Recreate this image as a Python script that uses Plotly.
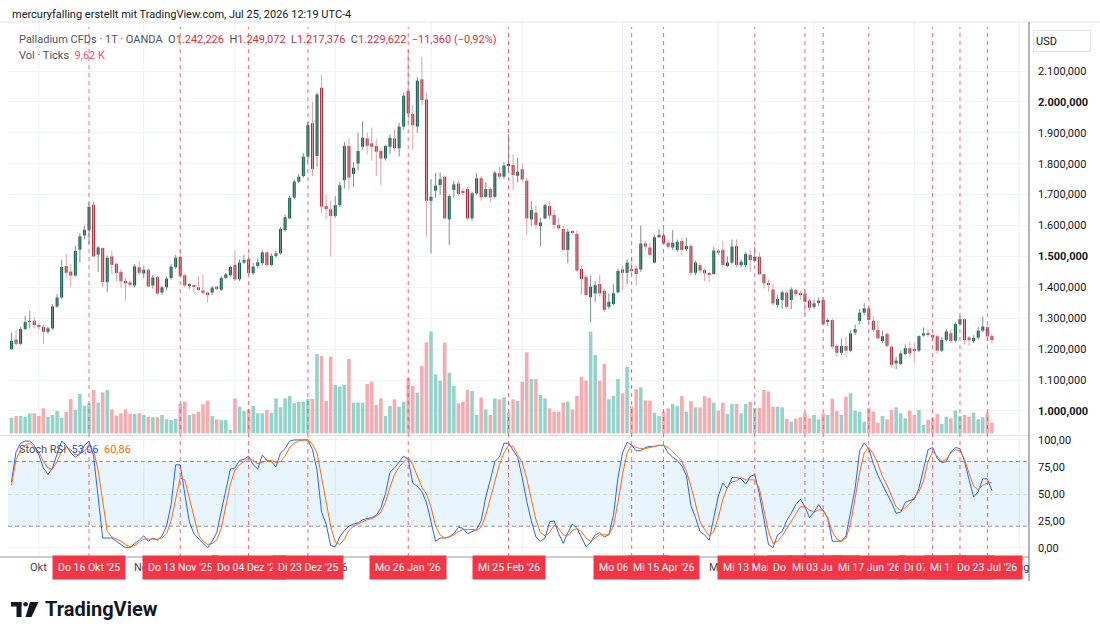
import plotly.graph_objects as go

# ---------------- data ----------------
open_ = [
    1200, 1231, 1217, 1265, 1288, 1292, 1278, 1272, 1256, 1267,
    1338, 1367, 1469, 1451, 1438, 1522, 1568, 1584, 1667, 1506,
    1527, 1417, 1500, 1476, 1450, 1421, 1416, 1406, 1465, 1445,
    1457, 1406, 1433, 1383, 1400, 1430, 1465, 1499, 1439, 1406,
    1405, 1400, 1390, 1383, 1383, 1402, 1392, 1430, 1439, 1473,
    1426, 1480, 1491, 1446, 1469, 1478, 1513, 1472, 1502, 1510,
    1585, 1623, 1690, 1742, 1760, 1823, 1931, 1825, 2046, 1663,
    1652, 1631, 1666, 1747, 1857, 1767, 1801, 1855, 1882, 1866,
    1857, 1841, 1817, 1855, 1882, 1850, 1920, 2035, 1961, 1920,
    2073, 2008, 1680, 1713, 1731, 1758, 1620, 1715, 1736, 1709,
    1718, 1623, 1704, 1753, 1693, 1718, 1693, 1769, 1758, 1794,
    1796, 1761, 1782, 1745, 1620, 1642, 1598, 1623, 1663, 1634,
    1602, 1589, 1521, 1580, 1573, 1459, 1434, 1368, 1380, 1411,
    1389, 1337, 1346, 1384, 1458, 1447, 1458, 1461, 1458, 1542,
    1529, 1480, 1562, 1568, 1544, 1529, 1521, 1550, 1523, 1534,
    1447, 1472, 1456, 1445, 1443, 1519, 1521, 1469, 1480, 1534,
    1472, 1472, 1505, 1486, 1499, 1442, 1413, 1393, 1343, 1359,
    1383, 1359, 1391, 1380, 1380, 1357, 1337, 1349, 1359, 1290,
    1294, 1210, 1188, 1210, 1195, 1253, 1291, 1318, 1332, 1291,
    1262, 1226, 1249, 1208, 1154, 1152, 1184, 1203, 1197, 1195,
    1244, 1251, 1246, 1242, 1195, 1230, 1251, 1227, 1281, 1297,
    1238, 1226, 1237, 1260, 1271, 1242.226,
]
high = [
    1254, 1261, 1272, 1308, 1325, 1304, 1285, 1278, 1272, 1345,
    1378, 1490, 1508, 1475, 1534, 1575, 1600, 1675, 1680, 1534,
    1530, 1503, 1517, 1480, 1460, 1430, 1425, 1476, 1484, 1470,
    1462, 1440, 1437, 1405, 1434, 1475, 1505, 1520, 1445, 1413,
    1410, 1435, 1440, 1385, 1405, 1405, 1436, 1447, 1470, 1520,
    1490, 1505, 1507, 1478, 1493, 1520, 1518, 1510, 1518, 1595,
    1635, 1697, 1748, 1767, 1835, 1935, 2000, 2030, 2087, 1700,
    1680, 1695, 1742, 1870, 1882, 1805, 1900, 1938, 1900, 1917,
    1880, 1850, 1862, 1895, 1910, 1932, 2030, 2170, 1990, 2080,
    2146, 2030, 1750, 1770, 1772, 1762, 1700, 1745, 1745, 1720,
    1725, 1710, 1770, 1760, 1740, 1724, 1776, 1790, 1805, 1895,
    1831, 1820, 1800, 1755, 1680, 1665, 1625, 1670, 1680, 1650,
    1625, 1600, 1590, 1585, 1585, 1470, 1440, 1437, 1420, 1440,
    1395, 1380, 1410, 1460, 1470, 1490, 1497, 1470, 1600, 1550,
    1545, 1570, 1590, 1590, 1555, 1585, 1555, 1560, 1560, 1540,
    1485, 1480, 1460, 1450, 1530, 1525, 1550, 1500, 1555, 1555,
    1490, 1515, 1521, 1532, 1513, 1445, 1425, 1410, 1375, 1390,
    1390, 1400, 1395, 1390, 1395, 1362, 1360, 1368, 1370, 1300,
    1300, 1215, 1235, 1240, 1260, 1280, 1330, 1348, 1340, 1305,
    1290, 1260, 1255, 1212, 1175, 1195, 1215, 1225, 1220, 1245,
    1270, 1265, 1250, 1248, 1240, 1265, 1262, 1287, 1308, 1300,
    1242, 1245, 1272, 1306, 1275, 1249.072,
]
low = [
    1197, 1213, 1213, 1262, 1267, 1267, 1262, 1216, 1250, 1262,
    1333, 1362, 1430, 1400, 1435, 1480, 1555, 1540, 1500, 1450,
    1400, 1385, 1445, 1420, 1400, 1357, 1400, 1400, 1440, 1430,
    1400, 1395, 1375, 1375, 1390, 1425, 1460, 1430, 1400, 1395,
    1380, 1388, 1378, 1350, 1375, 1390, 1388, 1428, 1435, 1420,
    1420, 1475, 1440, 1440, 1462, 1470, 1465, 1468, 1495, 1505,
    1580, 1620, 1684, 1738, 1755, 1805, 1760, 1790, 1640, 1620,
    1500, 1625, 1660, 1720, 1715, 1725, 1780, 1845, 1830, 1810,
    1760, 1730, 1810, 1830, 1840, 1823, 1910, 1935, 1845, 1900,
    1990, 1564, 1510, 1690, 1700, 1620, 1537, 1690, 1695, 1698,
    1618, 1615, 1700, 1680, 1690, 1676, 1688, 1750, 1750, 1780,
    1715, 1740, 1740, 1569, 1600, 1590, 1532, 1620, 1620, 1590,
    1585, 1518, 1478, 1570, 1450, 1377, 1370, 1286, 1352, 1370,
    1320, 1330, 1340, 1380, 1393, 1410, 1440, 1405, 1450, 1520,
    1500, 1478, 1560, 1540, 1525, 1520, 1515, 1505, 1518, 1440,
    1440, 1445, 1420, 1416, 1440, 1505, 1465, 1465, 1475, 1465,
    1465, 1465, 1450, 1480, 1440, 1396, 1385, 1340, 1335, 1330,
    1330, 1330, 1370, 1360, 1310, 1325, 1330, 1340, 1275, 1275,
    1200, 1175, 1180, 1175, 1190, 1245, 1280, 1310, 1285, 1255,
    1230, 1220, 1205, 1140, 1135, 1148, 1180, 1175, 1155, 1190,
    1240, 1240, 1225, 1185, 1190, 1225, 1220, 1222, 1275, 1215,
    1210, 1220, 1232, 1255, 1225, 1217.376,
]
close = [
    1227, 1217, 1265, 1288, 1290, 1278, 1271, 1256, 1267, 1338,
    1367, 1466, 1447, 1438, 1518, 1565, 1586, 1661, 1500, 1529,
    1417, 1496, 1473, 1446, 1420, 1413, 1408, 1468, 1447, 1457,
    1403, 1432, 1380, 1400, 1428, 1467, 1496, 1437, 1406, 1406,
    1403, 1391, 1382, 1378, 1399, 1396, 1430, 1442, 1466, 1426,
    1480, 1488, 1446, 1467, 1481, 1513, 1472, 1502, 1510, 1589,
    1627, 1690, 1742, 1758, 1823, 1925, 1783, 2024, 1661, 1653,
    1631, 1666, 1730, 1857, 1755, 1787, 1841, 1884, 1858, 1855,
    1839, 1817, 1857, 1884, 1850, 1920, 2020, 1963, 1925, 2069,
    2006, 1680, 1693, 1729, 1750, 1623, 1695, 1733, 1702, 1706,
    1623, 1704, 1753, 1691, 1718, 1691, 1771, 1758, 1794, 1799,
    1763, 1774, 1749, 1623, 1650, 1602, 1610, 1666, 1632, 1602,
    1591, 1521, 1580, 1577, 1454, 1427, 1375, 1402, 1407, 1380,
    1327, 1353, 1381, 1453, 1447, 1480, 1455, 1443, 1542, 1532,
    1505, 1562, 1570, 1542, 1531, 1544, 1547, 1521, 1534, 1447,
    1480, 1454, 1445, 1443, 1519, 1512, 1472, 1480, 1532, 1472,
    1483, 1508, 1488, 1499, 1442, 1413, 1410, 1348, 1362, 1384,
    1337, 1393, 1378, 1378, 1353, 1334, 1348, 1357, 1281, 1294,
    1208, 1188, 1210, 1195, 1251, 1265, 1318, 1332, 1294, 1262,
    1235, 1242, 1210, 1149, 1163, 1186, 1203, 1186, 1196, 1242,
    1251, 1246, 1238, 1195, 1230, 1257, 1226, 1281, 1297, 1229,
    1229, 1237, 1260, 1273, 1240.982, 1229.622,
]
volume_k = [
    14.1, 15.6, 15.6, 15.0, 18.0, 18.0, 15.6, 22.5, 15.0, 16.5,
    20.1, 14.1, 19.5, 30.9, 21.0, 35.4, 24.9, 27.0, 39.0, 27.6,
    36.9, 39.0, 21.6, 15.9, 18.0, 21.6, 17.4, 17.4, 18.0, 16.5,
    15.0, 14.4, 14.4, 16.5, 12.6, 12.0, 13.2, 26.4, 28.5, 16.5,
    17.4, 19.5, 26.1, 29.4, 15.6, 12.6, 12.0, 12.0, 3.0, 31.5,
    24.0, 20.1, 21.6, 24.9, 18.0, 18.0, 21.0, 18.6, 31.5, 23.4,
    31.5, 33.6, 27.0, 28.5, 28.5, 30.9, 30.9, 71.4, 69.6, 29.1,
    69.0, 43.5, 42.0, 43.5, 66.9, 27.6, 27.6, 27.6, 44.4, 46.5,
    25.5, 31.5, 15.6, 24.6, 30.6, 24.0, 28.5, 49.5, 42.6, 36.6,
    60.6, 81.9, 91.5, 53.1, 47.4, 81.6, 54.6, 42.6, 27.0, 28.5,
    39.0, 38.1, 16.5, 32.1, 21.6, 16.5, 31.5, 30.6, 32.4, 18.6,
    30.6, 29.1, 46.5, 72.9, 48.9, 48.9, 34.5, 31.5, 22.5, 19.5,
    19.5, 27.6, 28.5, 21.6, 33.6, 51.0, 47.4, 91.5, 70.5, 47.4,
    62.4, 30.6, 33.6, 48.9, 36.0, 60.0, 24.3, 39.6, 41.4, 29.7,
    29.4, 18.6, 15.6, 19.5, 22.5, 26.4, 24.6, 33.6, 19.5, 28.8,
    23.4, 23.4, 33.6, 31.8, 27.6, 20.4, 27.6, 17.4, 26.4, 26.4,
    18.0, 26.4, 28.2, 22.8, 22.8, 39.0, 37.8, 24.0, 24.0, 23.4,
    13.2, 10.5, 13.2, 14.4, 18.6, 13.5, 16.5, 12.6, 18.0, 16.5,
    31.2, 20.1, 16.5, 33.0, 36.0, 20.4, 19.5, 10.5, 22.5, 19.5,
    9.6, 15.6, 12.6, 21.0, 23.4, 18.0, 13.5, 20.4, 16.5, 21.0,
    7.5, 12.0, 13.5, 17.4, 8.4, 15.0, 13.5, 20.4, 15.6, 16.5,
    15.0, 18.6, 12.6, 14.4, 18.6, 9.62,
]
stoch_k = [
    61, 89, 97, 99, 99, 95, 86, 74, 68, 74,
    87, 99, 95, 88, 84, 87, 95, 99, 85, 47,
    9, 9, 9, 6, 3, 0, 0, 4, 7, 11,
    6, 9, 7, 11, 20, 40, 77, 77, 50, 24,
    13, 8, 4, 0, 6, 14, 33, 51, 73, 74,
    81, 82, 85, 77, 73, 86, 81, 80, 75, 88,
    92, 99, 100, 100, 100, 100, 91, 72, 33, 22,
    2, 1, 10, 16, 20, 22, 23, 26, 27, 28,
    30, 37, 50, 70, 74, 80, 85, 82, 60, 57,
    52, 42, 25, 6, 9, 9, 10, 13, 19, 18,
    13, 15, 17, 25, 47, 63, 80, 84, 97, 97,
    91, 84, 65, 43, 25, 10, 6, 9, 24, 25,
    13, 4, 14, 22, 18, 10, 1, 5, 12, 14,
    10, 12, 30, 65, 88, 98, 95, 90, 90, 93,
    94, 94, 95, 95, 88, 84, 81, 76, 67, 39,
    28, 15, 12, 7, 28, 48, 60, 55, 65, 65,
    64, 59, 66, 68, 50, 26, 3, 0, 12, 15,
    25, 32, 40, 45, 38, 28, 33, 40, 34, 28,
    6, 6, 6, 11, 32, 55, 90, 97, 92, 78,
    67, 58, 50, 42, 32, 33, 42, 44, 45, 55,
    73, 91, 93, 83, 79, 80, 89, 93, 92, 80,
    63, 47, 52, 64, 64, 53.06,
]
stoch_d = [
    58, 82, 91, 95, 97, 93, 89, 80, 74, 73,
    80, 90, 93, 91, 86, 87, 90, 94, 90, 72,
    42, 15, 10, 8, 6, 3, 1, 2, 5, 8,
    8, 8, 8, 9, 13, 25, 45, 65, 63, 45,
    27, 12, 6, 3, 4, 7, 18, 40, 59, 72,
    77, 80, 83, 81, 78, 79, 81, 81, 79, 80,
    85, 93, 97, 99, 100, 100, 96, 88, 65, 42,
    20, 5, 3, 8, 16, 20, 22, 24, 26, 27,
    29, 33, 42, 56, 68, 75, 80, 84, 77, 66,
    56, 50, 38, 20, 12, 9, 10, 12, 15, 17,
    17, 17, 16, 19, 30, 46, 62, 77, 88, 95,
    94, 87, 79, 64, 46, 26, 14, 11, 14, 21,
    18, 12, 11, 16, 18, 15, 9, 6, 9, 12,
    12, 12, 20, 42, 68, 88, 95, 93, 92, 92,
    93, 94, 95, 95, 93, 89, 85, 80, 71, 57,
    40, 24, 17, 11, 15, 28, 45, 56, 61, 62,
    65, 63, 63, 63, 55, 35, 15, 4, 6, 11,
    18, 25, 32, 38, 38, 35, 33, 35, 35, 27,
    15, 8, 6, 9, 22, 45, 70, 88, 93, 87,
    78, 66, 58, 48, 38, 35, 37, 41, 46, 52,
    62, 80, 89, 85, 80, 82, 88, 91, 90, 82,
    69, 57, 54, 58, 60, 60.86,
]

price_ticks = [1000, 1100, 1200, 1300, 1400, 1500, 1600, 1700, 1800, 1900, 2000, 2100]
stoch_ticks = [0, 25, 50, 75, 100]
month_idx = [6, 29, 49, 71, 92, 112, 134, 155, 176, 198, 221]
month_text = ["Okt", "Nov", "Dez", "2026", "Feb", "Mär", "Apr", "Mai", "Jun", "Jul", "Aug"]
event_idx = [17, 37, 52, 65, 87, 109, 136, 143, 163, 174, 178, 188, 202, 208, 214]
event_text = ["Do 16 Okt '25", "Do 13 Nov '25", "Do 04 Dez '25", "Di 23 Dez '25",
              "Mo 26 Jan '26", "Mi 25 Feb '26", "Mo 06 Apr '26", "Mi 15 Apr '26",
              "Mi 13 Mai '26", "Do 28 Mai '26", "Mi 03 Jun '26", "Mi 17 Jun '26",
              "Di 07 Jul '26", "Mi 15 Jul '26", "Do 23 Jul '26"]

# ---------------- helpers ----------------
W, H = 1100, 638
ML, MR, MT, MB = 8, 71, 22, 81
PW, PH = W - ML - MR, H - MT - MB


def px(xp):
    return (xp - ML) / PW


def py(yp):
    return (H - MB - yp) / PH


def de(v, d):
    s = f"{v:,.{d}f}"
    return s.replace(",", "X").replace(".", ",").replace("X", ".")


UP, DN = "#0E5E4C", "#B0293A"
UP_W, DN_W = "#7E918B", "#DEA3A9"
UP_V, DN_V = "#93D3C9", "#F6ABB0"
RED_TXT = "#E0303C"
FONT = "Roboto, Arial, sans-serif"

n = len(close)
idx = list(range(n))
is_up = [close[i] >= open_[i] for i in idx]

body_base = [min(open_[i], close[i]) for i in idx]
body_h = [max(abs(close[i] - open_[i]), 3.0) for i in idx]

fig = go.Figure()

# volume (base axis, drawn beneath the price axis)
fig.add_trace(go.Bar(x=idx, y=volume_k, width=0.78, yaxis="y",
                     marker=dict(color=[UP_V if u else DN_V for u in is_up], line=dict(width=0)),
                     hoverinfo="skip"))

# wicks
for flag, col in ((True, UP_W), (False, DN_W)):
    wx, wy = [], []
    for i in idx:
        if is_up[i] == flag:
            wx += [i, i, None]
            wy += [low[i], high[i], None]
    fig.add_trace(go.Scatter(x=wx, y=wy, mode="lines", yaxis="y2",
                             line=dict(color=col, width=1), hoverinfo="skip"))

# bodies
fig.add_trace(go.Bar(x=idx, y=body_h, base=body_base, width=0.66, yaxis="y2",
                     marker=dict(color=[UP if u else DN for u in is_up], line=dict(width=0)),
                     hoverinfo="skip"))

# stoch RSI
fig.add_trace(go.Scatter(x=idx, y=stoch_k, mode="lines", yaxis="y3",
                         line=dict(color="#2962FF", width=1), hoverinfo="skip"))
fig.add_trace(go.Scatter(x=idx, y=stoch_d, mode="lines", yaxis="y3",
                         line=dict(color="#FF6D00", width=1), hoverinfo="skip"))

x_lo = (ML - 11.5) / 4.56
x_hi = (ML + PW - 11.5) / 4.56

shapes = []
# month grid lines
for m in month_idx:
    shapes.append(dict(type="line", xref="x", yref="paper", x0=m, x1=m, y0=0, y1=1,
                       line=dict(color="#EEF0F5", width=1), layer="below"))
# stoch band + levels
shapes.append(dict(type="rect", xref="paper", yref="y3", x0=0, x1=1, y0=20, y1=80,
                   fillcolor="rgba(33,150,243,0.10)", line=dict(width=0), layer="below"))
for lv, col in ((80, "#8F929C"), (50, "rgba(120,123,134,0.55)"), (20, "#8F929C")):
    shapes.append(dict(type="line", xref="paper", yref="y3", x0=0, x1=1, y0=lv, y1=lv,
                       line=dict(color=col, width=1, dash="4px,3px"), layer="below"))
# pane separators and frame
shapes.append(dict(type="line", xref="paper", yref="paper", x0=px(0), x1=1, y0=py(435.5), y1=py(435.5),
                   line=dict(color="#E0E3EB", width=1)))
shapes.append(dict(type="line", xref="paper", yref="paper", x0=px(0), x1=1, y0=py(557), y1=py(557),
                   line=dict(color="#9598A1", width=1)))
shapes.append(dict(type="line", xref="paper", yref="paper", x0=px(0), x1=px(1100), y0=py(22), y1=py(22),
                   line=dict(color="#E0E3EB", width=1)))
shapes.append(dict(type="line", xref="paper", yref="paper", x0=1, x1=1, y0=py(581), y1=py(22),
                   line=dict(color="#6A6D78", width=1)))
# event marker lines
for e in event_idx:
    shapes.append(dict(type="line", xref="x", yref="paper", x0=e, x1=e, y0=0, y1=py(27),
                       line=dict(color="rgba(242,54,69,0.75)", width=1, dash="4px,4px")))

# TradingView logo mark
shapes.append(dict(type="rect", xref="paper", yref="paper", x0=px(11), x1=px(21.5), y0=py(606.5), y1=py(602),
                   fillcolor="#131722", line=dict(width=0)))
shapes.append(dict(type="rect", xref="paper", yref="paper", x0=px(16.5), x1=px(21.5), y0=py(617), y1=py(602),
                   fillcolor="#131722", line=dict(width=0)))
shapes.append(dict(type="circle", xref="paper", yref="paper", x0=px(23.3), x1=px(27.9), y0=py(606.6), y1=py(602),
                   fillcolor="#131722", line=dict(width=0)))
path = "M {} {} L {} {} L {} {} L {} {} Z".format(px(30), py(602), px(38.5), py(602),
                                                   px(31.5), py(617), px(25.5), py(617))
shapes.append(dict(type="path", xref="paper", yref="paper", path=path,
                   fillcolor="#131722", line=dict(width=0)))

ann = []


def txt(x, y, text, size=11, color="#131722", **kw):
    d = dict(xref="paper", yref="paper", x=px(x), y=py(y), text=text, showarrow=False,
             xanchor="left", yanchor="middle", font=dict(size=size, color=color, family=FONT))
    d.update(kw)
    ann.append(d)


def red(s, c=RED_TXT):
    return f'<span style="color:{c}">{s}</span>'


nb = "\u00a0"
chg = close[-1] - close[-2]
pct = chg / close[-2] * 100
txt(10, 14, "mercuryfalling erstellt mit TradingView.com, Jul 25, 2026 12:19 UTC-4", size=11, color="#131722")
line2 = ("Palladium CFDs · 1T · OANDA" + nb * 2 +
         "O" + red(de(open_[-1], 3)) + nb * 2 +
         "H" + red(de(high[-1], 3)) + nb * 2 +
         "L" + red(de(low[-1], 3)) + nb * 2 +
         "C" + red(de(close[-1], 3)) + nb * 2 +
         red(("−" if chg < 0 else "+") + de(abs(chg), 3) + " (" + ("−" if pct < 0 else "+") + de(abs(pct), 2) + "%)"))
txt(17, 40, line2, size=11, color="#50535E")
txt(17, 56, "Vol · Ticks" + nb * 2 + red(de(volume_k[-1], 2) + " K", "#F7525F"), size=11, color="#50535E")
txt(17, 449, "Stoch RSI" + nb * 2 + red(de(stoch_k[-1], 2), "#2962FF") + nb * 2 + red(de(stoch_d[-1], 2), "#FF6D00"),
    size=11, color="#50535E")
txt(43, 609, "<b>TradingView</b>", size=20, color="#131722")
# USD box
ann.append(dict(xref="paper", yref="paper", x=px(1033), y=py(41), text="USD", showarrow=False,
                xanchor="left", yanchor="middle", align="left", width=52, height=16,
                bordercolor="#E0E3EB", borderwidth=1, borderpad=2, bgcolor="white",
                font=dict(size=11, color="#131722", family=FONT)))

# month labels of the time axis
for m, t in zip(month_idx, month_text):
    ann.append(dict(xref="x", yref="paper", x=m, y=py(567), text=t, showarrow=False,
                    xanchor="center", yanchor="middle", font=dict(size=11, color="#434651", family=FONT)))
# red date labels of the vertical markers
for e, t in zip(event_idx, event_text):
    ann.append(dict(xref="x", yref="paper", x=e, y=py(567), text=t, showarrow=False,
                    xanchor="center", yanchor="middle", bgcolor="#F23645", borderpad=5,
                    font=dict(size=10.5, color="white", family=FONT)))

price_text = [("<b>" + de(v, 3) + "</b>") if v % 500 == 0 else de(v, 3) for v in price_ticks]
stoch_text = [de(v, 2) for v in stoch_ticks]

fig.update_layout(
    width=W, height=H, margin=dict(l=ML, r=MR, t=MT, b=MB, pad=0),
    paper_bgcolor="white", plot_bgcolor="white", showlegend=False,
    barmode="overlay", font=dict(family=FONT, color="#131722"),
    xaxis=dict(range=[x_lo, x_hi], showgrid=False, zeroline=False, showticklabels=False,
               ticks="", showline=False, fixedrange=True),
    yaxis=dict(domain=[py(435), 1], range=[-1.5, 370], visible=False, fixedrange=True),
    yaxis2=dict(overlaying="y", anchor="x", side="right", range=[922.1, 2258.6],
                tickvals=price_ticks, ticktext=price_text, showgrid=True, gridcolor="#F0F3FA",
                zeroline=False, showline=False, ticks="", ticklabelstandoff=8,
                tickfont=dict(size=11, color="#131722", family=FONT)),
    yaxis3=dict(domain=[0, py(435)], anchor="x", side="right", range=[-8.6, 104.6],
                tickvals=stoch_ticks, ticktext=stoch_text, showgrid=True, gridcolor="#F0F3FA",
                zeroline=False, showline=False, ticks="", ticklabelstandoff=8,
                tickfont=dict(size=11, color="#131722", family=FONT)),
    shapes=shapes, annotations=ann,
)

fig.write_html("out.html")
